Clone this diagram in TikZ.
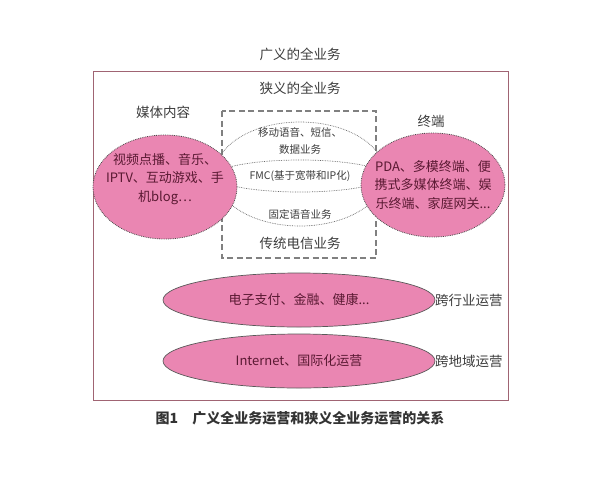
\documentclass[tikz,border=0pt]{standalone}
\usepackage{fontspec}
\setmainfont{Noto Sans CJK SC}
\usetikzlibrary{shapes.geometric}
\definecolor{pinkfill}{RGB}{234,134,178}
\definecolor{blobtext}{RGB}{90,25,50}
\definecolor{framered}{RGB}{160,100,115}
\definecolor{labelgray}{RGB}{60,60,60}

\begin{document}
\begin{tikzpicture}[x=1pt,y=-1pt,
    pinkblob/.style={ellipse,fill=pinkfill,draw=black!70,densely dotted,line width=0.8pt,inner sep=0pt,minimum width=144,minimum height=104},
    blobtxt/.style={text=blobtext,align=center,font=\fontsize{13}{18.5}\selectfont},
    flatblob/.style={ellipse,fill=pinkfill,draw=black!65,line width=0.7pt,inner sep=0pt,minimum width=272,minimum height=54,text=blobtext,font=\fontsize{13}{16}\selectfont},
    tag/.style={text=labelgray,font=\fontsize{13.5}{16}\selectfont},
    small/.style={text=labelgray,align=center,font=\fontsize{10.5}{17}\selectfont},
    lens/.style={ellipse,draw=black!60,densely dotted,line width=0.7pt,inner sep=0pt,minimum width=170}
  ]
    \useasboundingbox (0,0) rectangle (600,480);
    \node (wide) at (300,54) [tag] {广义的全业务};
    \draw[framered,line width=1pt] (93,71) rectangle (508,400);
    \node (narrow) at (300,88) [tag] {狭义的全业务};
    \draw[black!50,dash pattern=on 6pt off 3.5pt,line width=1.1pt] (222,111) rectangle (376,258);

    % traditional telecom rings
    \node (telco) at (300,174) [lens,minimum height=104] {};
    \node (fmcring) at (300,176) [lens,minimum height=32] {};
    \node (mobile) at (300,141) [small] {移动语音、短信、\\数据业务};
    \node (fmc) at (300,176) [small] {FMC(基于宽带和IP化)};
    \node (fixed) at (300,214) [small] {固定语音业务};
    \node (legacy) at (300,243) [tag] {传统电信业务};

    \node (media) at (165,187) [pinkblob] {};
    \node (mediatxt) at (165,179) [blobtxt] {视频点播、音乐、\\IPTV、互动游戏、手\\机blog…};
    \node (medialbl) at (163,112) [tag] {媒体内容};
    \node (term) at (433,185) [pinkblob] {};
    \node (termtxt) at (term.center) [blobtxt] {PDA、多模终端、便\\携式多媒体终端、娱\\乐终端、家庭网关...};
    \node (termlbl) at (431,121) [tag] {终端};

    \node (industry) at (299,300) [flatblob] {电子支付、金融、健康...};
    \node (indlbl) at (435,300) [tag,anchor=west,inner sep=0pt] {跨行业运营};
    \node (region) at (299,361) [flatblob] {Internet、国际化运营};
    \node (reglbl) at (435,361) [tag,anchor=west,inner sep=0pt] {跨地域运营};

    \node (caption) at (300,418) [text=black!80,font=\bfseries\fontsize{14}{16}\selectfont] {图1\quad 广义全业务运营和狭义全业务运营的关系};
  \end{tikzpicture}
\end{document}
